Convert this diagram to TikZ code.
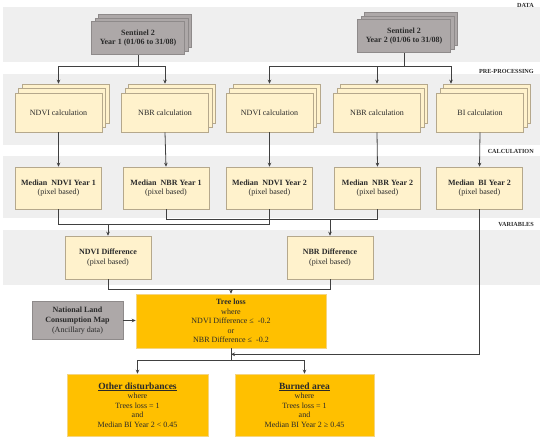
\documentclass[tikz,border=0pt]{standalone}
\usepackage{fontspec}
\setmainfont{Liberation Serif}
\usetikzlibrary{arrows.meta}
\definecolor{bandc}{HTML}{EFEFEF}
\definecolor{grayf}{HTML}{ADA8A8}
\definecolor{grayd}{HTML}{8E8A8A}
\definecolor{creamf}{HTML}{FFF2CC}
\definecolor{creamd}{HTML}{B5A88C}
\definecolor{yelf}{HTML}{FFC000}
\definecolor{yeld}{HTML}{F5D580}
\definecolor{linec}{HTML}{404040}
\definecolor{txtc}{HTML}{2A2A2A}
\newcommand{\fsz}{\fontsize{8}{9.6}\selectfont}
\tikzset{
  lab/.style={font=\fontsize{6.2}{7}\selectfont\bfseries, anchor=east, text=txtc, inner sep=0pt},
  grayb/.style={draw=grayd, fill=grayf, line width=0.6pt, align=center, font=\fsz\bfseries, text=txtc, inner sep=1pt},
  creamb/.style={draw=creamd, fill=creamf, line width=0.6pt, align=center, font=\fsz, text=txtc, inner sep=1pt},
  yelb/.style={draw=yeld, fill=yelf, line width=0.6pt, align=center, font=\fsz, text=txtc, inner sep=1pt},
  sgray/.style={grayb, minimum width=93pt, minimum height=33pt},
  scream/.style={creamb, minimum width=87pt, minimum height=39pt},
  conn/.style={draw=linec, line width=0.8pt},
  arr/.style={conn, -{Stealth[length=4pt,width=3.6pt]}},
}
% #1 style, #2 name, #3 x, #4 y, #5 dx, #6 dy (up), #7 text
\newcommand{\stk}[7]{%
  \node[#1] (#2b) at (#3+2*#5, #4-2*#6) {};
  \node[#1] (#2m) at (#3+#5, #4-#6) {};
  \node[#1] (#2) at (#3,#4) {#7};}
\begin{document}
\begin{tikzpicture}[x=1pt,y=-1pt]
\useasboundingbox[fill=white] (0,0) rectangle (550,441);
% bands
\fill[bandc] (3,7) rectangle (540,62);
\fill[bandc] (3,74) rectangle (540,145);
\fill[bandc] (3,156) rectangle (540,218);
\fill[bandc] (3,230) rectangle (540,285);
\node[lab] (ldata) at (534,5) {DATA};
\node[lab] (lpre) at (534,71) {PRE-PROCESSING};
\node[lab] (lcalc) at (534,151) {CALCULATION};
\node[lab] (lvar) at (534,224) {VARIABLES};
% data
\stk{sgray}{s1}{138}{38}{3.5}{3.5}{Sentinel 2\\Year 1 (01/06 to 31/08)}
\stk{sgray}{s2}{404}{36}{3.5}{3.5}{Sentinel 2\\Year 2 (01/06 to 31/08)}
% pre-processing
\stk{scream}{c1}{58.5}{112.5}{3.5}{4.5}{NDVI calculation}
\stk{scream}{c2}{165}{112.5}{3.5}{4.5}{NBR calculation}
\stk{scream}{c3}{269.5}{112.5}{3.5}{4.5}{NDVI calculation}
\stk{scream}{c4}{377}{112.5}{3.5}{4.5}{NBR calculation}
\stk{scream}{c5}{480}{112.5}{3.5}{4.5}{BI calculation}
% calculation
\node[creamb, minimum width=86pt, minimum height=42pt] (m1) at (58.5,188) {\textbf{Median\ \ NDVI Year 1}\\(pixel based)};
\node[creamb, minimum width=86pt, minimum height=42pt] (m2) at (166,188) {\textbf{Median\ \ NBR Year 1}\\(pixel based)};
\node[creamb, minimum width=86pt, minimum height=42pt] (m3) at (269.5,188) {\textbf{Median\ \ NDVI Year 2}\\(pixel based)};
\node[creamb, minimum width=86pt, minimum height=42pt] (m4) at (377.5,188) {\textbf{Median\ \ NBR Year 2}\\(pixel based)};
\node[creamb, minimum width=86pt, minimum height=42pt] (m5) at (479.5,188) {\textbf{Median\ \ BI Year 2}\\(pixel based)};
% variables
\node[creamb, minimum width=86pt, minimum height=43pt] (d1) at (108,257.5) {\textbf{NDVI Difference}\\(pixel based)};
\node[creamb, minimum width=86pt, minimum height=43pt] (d2) at (330,257.5) {\textbf{NBR Difference}\\(pixel based)};
% tree loss
\node[yelb, minimum width=190pt, minimum height=54pt] (t) at (231,321) {\textbf{Tree loss}\\where\\NDVI Difference ≤\ \ -0.2\\or\\NBR Difference ≤\ \ -0.2};
\node[grayb, minimum width=91pt, minimum height=38pt] (n) at (77.5,320.5) {National Land\\Consumption Map\\\mdseries(Ancillary data)};
% outputs
\node[yelb, minimum width=141pt, minimum height=62pt] (o) at (137.5,405) {{\fontsize{9.5}{10}\selectfont\bfseries\underline{Other disturbances}}\\where\\Trees loss = 1\\and\\Median BI Year 2 < 0.45};
\node[yelb, minimum width=139pt, minimum height=62pt] (b) at (304.5,405) {{\fontsize{9.5}{10}\selectfont\bfseries\underline{Burned area}}\\where\\Trees loss = 1\\and\\Median BI Year 2 ≥ 0.45};
% connectors: data -> pre-processing
\draw[conn] (s1.south) -- ++(0,12) coordinate (j1);
\draw[arr] (j1) -| (c1b.north -| c1.north);
\draw[arr] (j1) -| (c2b.north -| c2.north);
\draw[conn] (s2.south) -- ++(0,13.5) coordinate (j2);
\draw[arr] (j2) -| (c3b.north -| c3.north);
\draw[arr] (j2) -| (c4b.north -| c4.north);
\draw[arr] (j2) -| ([xshift=-29pt]c5b.north -| c5.north);
% pre-processing -> calculation
\draw[arr] (c1.south) -- (m1.north);
\draw[arr] (c2.south) -- (m2.north);
\draw[arr] (c3.south) -- (m3.north);
\draw[arr] (c4.south) -- (m4.north);
\draw[arr] (c5.south) -- (m5.north);
% calculation -> variables
\draw[conn] (m1.south) -- ++(0,15) coordinate (h1) -| (m3.south);
\draw[arr] (d1.north |- h1) -- (d1.north);
\draw[conn] (m2.south) -- ++(0,10) coordinate (h2) -| (m4.south);
\draw[arr] (d2.north |- h2) -- (d2.north);
% variables -> tree loss
\draw[conn] (d1.south) -- ++(0,10) coordinate (h3) -| (d2.south);
\draw[arr] (t.north |- h3) -- (t.north);
\draw[arr] (n.east) -- (n.east -| t.west);
% tree loss -> outputs
\draw[conn] (t.south) -- ++(0,12) coordinate (h4);
\draw[arr] (h4) -| (o.north);
\draw[arr] (h4) -| (b.north);
\coordinate (h5) at ([yshift=-6pt]t.south);
\draw[arr] (m5.south) |- (h5);
\end{tikzpicture}
\end{document}
